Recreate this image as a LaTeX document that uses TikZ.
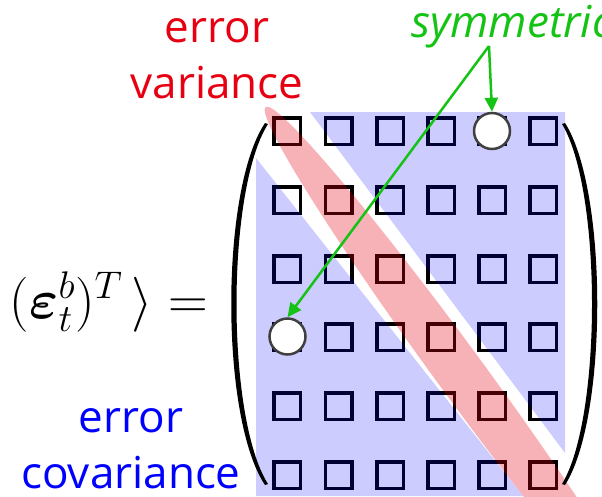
\RequirePackage{fix-cm}
\documentclass[tikz,border=0pt]{standalone}
\usepackage{amsmath}
\usepackage[no-math]{fontspec}
\newfontfamily\slidefont{Open Sans}
\usetikzlibrary{arrows.meta}

\definecolor{varred}{RGB}{230,0,18}
\definecolor{covblue}{RGB}{0,0,255}
\definecolor{symgreen}{RGB}{20,195,20}
\definecolor{ringgray}{RGB}{64,64,64}

\tikzset{
  cell/.style={draw=black, line width=3.5pt, minimum size=26.5pt, inner sep=0pt},
  symcircle/.style={circle, draw=ringgray, fill=white, line width=2.5pt, minimum size=36pt, inner sep=0pt},
  symarrow/.style={draw=symgreen, line width=2.5pt, -{Triangle[length=14pt,width=13pt]}},
  slidetext/.style={font=\slidefont\fontsize{44}{56}\selectfont, align=center, inner sep=0pt},
}

\begin{document}
\begin{tikzpicture}[x=1pt,y=-1pt]
\useasboundingbox (0,0) rectangle (602,496);
\clip (0,0) rectangle (602,496);
% matrix cells
\foreach \r/\y in {1/131,2/200,3/269,4/337,5/406,6/475}
  \foreach \c/\x in {1/287,2/338.5,3/390,4/441,5/492,6/543}
    \node[cell] (m\r\c) at (\x,\y) {};
% blue shade, split along the diagonal
\fill[blue, opacity=0.2] (310,112) -- (565,112) -- (565,453) -- cycle;
\fill[blue, opacity=0.2] (256,158) -- (523,496) -- (256,496) -- cycle;
% diagonal band
\fill[varred, opacity=0.3, rotate around={-53.8:(460.5,373.3)}]
  (460.5,373.3) ellipse [x radius=330pt, y radius=24pt];
% symmetric entries
\node[symcircle] (c15) at (492,131) {};
\node[symcircle] (c41) at (287.5,336.5) {};
% brackets
\fill (265,123) .. controls (220,190) and (220,418) .. (265,485)
  -- (268,484) .. controls (226,418) and (226,190) .. (268,124) -- cycle;
\fill (565,123) .. controls (608,190) and (608,418) .. (565,485)
  -- (562,484) .. controls (602,418) and (602,190) .. (562,124) -- cycle;
% labels
\node[slidetext, text=varred, anchor=base] (errvar) at (217,98) {error\\variance};
\node[slidetext, text=covblue, anchor=base] (errcov) at (131,488) {error\\covariance};
\node[slidetext, text=symgreen, font=\slidefont\itshape\fontsize{44}{56}\selectfont,
  anchor=base west] (sym) at (411,37) {symmetric};
% equation, cut at the left edge
\node[anchor=base east, inner sep=0pt, font=\fontsize{55}{64}\selectfont] (eq) at (208,318)
  {$\langle\boldsymbol{\varepsilon}_t^b\,(\boldsymbol{\varepsilon}_t^b)^T\,\rangle=$};
% arrows
\coordinate (fork) at (489,46);
\draw[symarrow] (fork) -- (c15.north);
\draw[symarrow] (fork) -- (c41.north);
\end{tikzpicture}
\end{document}
